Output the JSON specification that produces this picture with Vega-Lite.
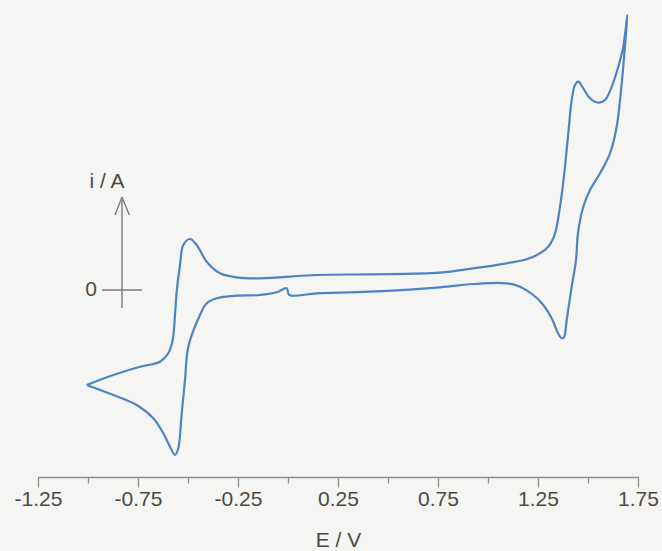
{
  "$schema": "https://vega.github.io/schema/vega-lite/v6.json",
  "autosize": {"type": "none"},
  "padding": {"left": 38, "top": 10, "right": 24, "bottom": 74},
  "width": 600,
  "height": 467,
  "background": "#f5f5f3",
  "config": {
    "view": {"stroke": null},
    "font": "Liberation Sans"
  },
  "datasets": {
    "cv": [
      {"order": 1, "E": -1.0065, "i": -9.5},
      {"order": 2, "E": -0.8735, "i": -8.5},
      {"order": 3, "E": -0.74, "i": -7.67},
      {"order": 4, "E": -0.64, "i": -7.17},
      {"order": 5, "E": -0.5985, "i": -6.33},
      {"order": 6, "E": -0.5765, "i": -5.0},
      {"order": 7, "E": -0.565, "i": -2.5},
      {"order": 8, "E": -0.5565, "i": -0.17},
      {"order": 9, "E": -0.54, "i": 2.5},
      {"order": 10, "E": -0.5235, "i": 4.5},
      {"order": 11, "E": -0.49, "i": 5.1},
      {"order": 12, "E": -0.4565, "i": 4.5},
      {"order": 13, "E": -0.4065, "i": 2.83},
      {"order": 14, "E": -0.34, "i": 1.67},
      {"order": 15, "E": -0.2565, "i": 1.27},
      {"order": 16, "E": -0.14, "i": 1.17},
      {"order": 17, "E": 0.1435, "i": 1.5},
      {"order": 18, "E": 0.41, "i": 1.57},
      {"order": 19, "E": 0.76, "i": 1.73},
      {"order": 20, "E": 0.9265, "i": 2.17},
      {"order": 21, "E": 1.0935, "i": 2.67},
      {"order": 22, "E": 1.1935, "i": 3.07},
      {"order": 23, "E": 1.26, "i": 3.67},
      {"order": 24, "E": 1.3015, "i": 4.33},
      {"order": 25, "E": 1.3265, "i": 5.17},
      {"order": 26, "E": 1.3435, "i": 6.33},
      {"order": 27, "E": 1.3575, "i": 8.0},
      {"order": 28, "E": 1.3685, "i": 9.5},
      {"order": 29, "E": 1.385, "i": 12.33},
      {"order": 30, "E": 1.4015, "i": 15.67},
      {"order": 31, "E": 1.4185, "i": 19.0},
      {"order": 32, "E": 1.435, "i": 20.5},
      {"order": 33, "E": 1.4515, "i": 20.83},
      {"order": 34, "E": 1.4765, "i": 20.17},
      {"order": 35, "E": 1.51, "i": 19.17},
      {"order": 36, "E": 1.5515, "i": 18.73},
      {"order": 37, "E": 1.585, "i": 19.0},
      {"order": 38, "E": 1.6185, "i": 20.33},
      {"order": 39, "E": 1.6515, "i": 22.33},
      {"order": 40, "E": 1.6765, "i": 24.33},
      {"order": 41, "E": 1.6965, "i": 27.5},
      {"order": 42, "E": 1.69, "i": 25.67},
      {"order": 43, "E": 1.6685, "i": 20.67},
      {"order": 44, "E": 1.6435, "i": 16.33},
      {"order": 45, "E": 1.61, "i": 13.67},
      {"order": 46, "E": 1.56, "i": 11.67},
      {"order": 47, "E": 1.51, "i": 10.0},
      {"order": 48, "E": 1.4765, "i": 8.33},
      {"order": 49, "E": 1.45, "i": 5.7},
      {"order": 50, "E": 1.44, "i": 3.0},
      {"order": 51, "E": 1.4185, "i": 0.33},
      {"order": 52, "E": 1.3935, "i": -3.0},
      {"order": 53, "E": 1.38, "i": -4.73},
      {"order": 54, "E": 1.3685, "i": -4.83},
      {"order": 55, "E": 1.3465, "i": -4.17},
      {"order": 56, "E": 1.3185, "i": -2.83},
      {"order": 57, "E": 1.2765, "i": -1.5},
      {"order": 58, "E": 1.2265, "i": -0.5},
      {"order": 59, "E": 1.16, "i": 0.33},
      {"order": 60, "E": 1.0935, "i": 0.67},
      {"order": 61, "E": 0.9265, "i": 0.6},
      {"order": 62, "E": 0.76, "i": 0.27},
      {"order": 63, "E": 0.41, "i": -0.17},
      {"order": 64, "E": 0.1435, "i": -0.33},
      {"order": 65, "E": 0.0065, "i": -0.5},
      {"order": 66, "E": -0.0065, "i": 0.17},
      {"order": 67, "E": -0.0565, "i": -0.23},
      {"order": 68, "E": -0.14, "i": -0.5},
      {"order": 69, "E": -0.2565, "i": -0.57},
      {"order": 70, "E": -0.3565, "i": -0.83},
      {"order": 71, "E": -0.4065, "i": -1.33},
      {"order": 72, "E": -0.44, "i": -2.5},
      {"order": 73, "E": -0.4985, "i": -5.67},
      {"order": 74, "E": -0.515, "i": -9.0},
      {"order": 75, "E": -0.5315, "i": -12.33},
      {"order": 76, "E": -0.5485, "i": -15.83},
      {"order": 77, "E": -0.565, "i": -16.5},
      {"order": 78, "E": -0.59, "i": -15.67},
      {"order": 79, "E": -0.6235, "i": -14.33},
      {"order": 80, "E": -0.6735, "i": -12.83},
      {"order": 81, "E": -0.7565, "i": -11.5},
      {"order": 82, "E": -0.8735, "i": -10.5},
      {"order": 83, "E": -1.0065, "i": -9.5}
    ],
    "iaxis": [
      {"x": -0.83, "y": -1.8, "x2": -0.83, "y2": 9.3},
      {"x": -0.93, "y": 0, "x2": -0.73, "y2": 0},
      {"x": -0.865, "y": 7.5, "x2": -0.83, "y2": 9.3},
      {"x": -0.7935, "y": 7.5, "x2": -0.83, "y2": 9.3}
    ],
    "labels": [
      {"x": -0.985, "y": 0, "text": "0"},
      {"x": -0.905, "y": 10.8, "text": "i / A"}
    ]
  },
  "layer": [
    {
      "data": {"name": "cv"},
      "mark": {"type": "line", "color": "#4d84c4", "strokeWidth": 2.2, "interpolate": "catmull-rom"},
      "encoding": {
        "x": {
          "field": "E", "type": "quantitative",
          "scale": {"domain": [-1.25, 1.75], "nice": false, "zero": false},
          "axis": {
            "title": "E / V",
            "values": [-1.25, -1, -0.75, -0.5, -0.25, 0, 0.25, 0.5, 0.75, 1, 1.25, 1.5, 1.75],
            "labelExpr": "abs((datum.value + 1.25) / 0.5 - round((datum.value + 1.25) / 0.5)) < 0.01 ? replace(format(datum.value, '.2f'), '\u2212', '-') : ''",
            "tickSize": {"condition": {"test": "abs((datum.value + 1.25) / 0.5 - round((datum.value + 1.25) / 0.5)) < 0.01", "value": 10}, "value": 6},
            "grid": false,
            "domainColor": "#8e8e8e",
            "tickColor": "#8e8e8e",
            "domainWidth": 1.3,
            "tickWidth": 1.3,
            "labelFont": "Liberation Sans",
            "labelFontSize": 21,
            "labelColor": "#4a4a44",
            "labelPadding": 1,
            "labelFlush": false,
            "labelOverlap": false,
            "titleFont": "Liberation Sans",
            "titleFontSize": 21,
            "titleFontWeight": "normal",
            "titleColor": "#4a4a44",
            "titlePadding": 20
          }
        },
        "y": {
          "field": "i", "type": "quantitative",
          "scale": {"domain": [-18.7, 28], "nice": false, "zero": false},
          "axis": null
        },
        "order": {"field": "order", "type": "quantitative"}
      }
    },
    {
      "data": {"name": "iaxis"},
      "mark": {"type": "rule", "color": "#7a7a7a", "strokeWidth": 1.4},
      "encoding": {
        "x": {"field": "x", "type": "quantitative", "scale": {"domain": [-1.25, 1.75], "nice": false, "zero": false}},
        "x2": {"field": "x2"},
        "y": {"field": "y", "type": "quantitative", "scale": {"domain": [-18.7, 28], "nice": false, "zero": false}},
        "y2": {"field": "y2"}
      }
    },
    {
      "data": {"name": "labels"},
      "mark": {"type": "text", "font": "Liberation Sans", "fontSize": 21, "color": "#4a4a44", "align": "center", "baseline": "middle"},
      "encoding": {
        "x": {"field": "x", "type": "quantitative", "scale": {"domain": [-1.25, 1.75], "nice": false, "zero": false}},
        "y": {"field": "y", "type": "quantitative", "scale": {"domain": [-18.7, 28], "nice": false, "zero": false}},
        "text": {"field": "text"}
      }
    }
  ]
}
